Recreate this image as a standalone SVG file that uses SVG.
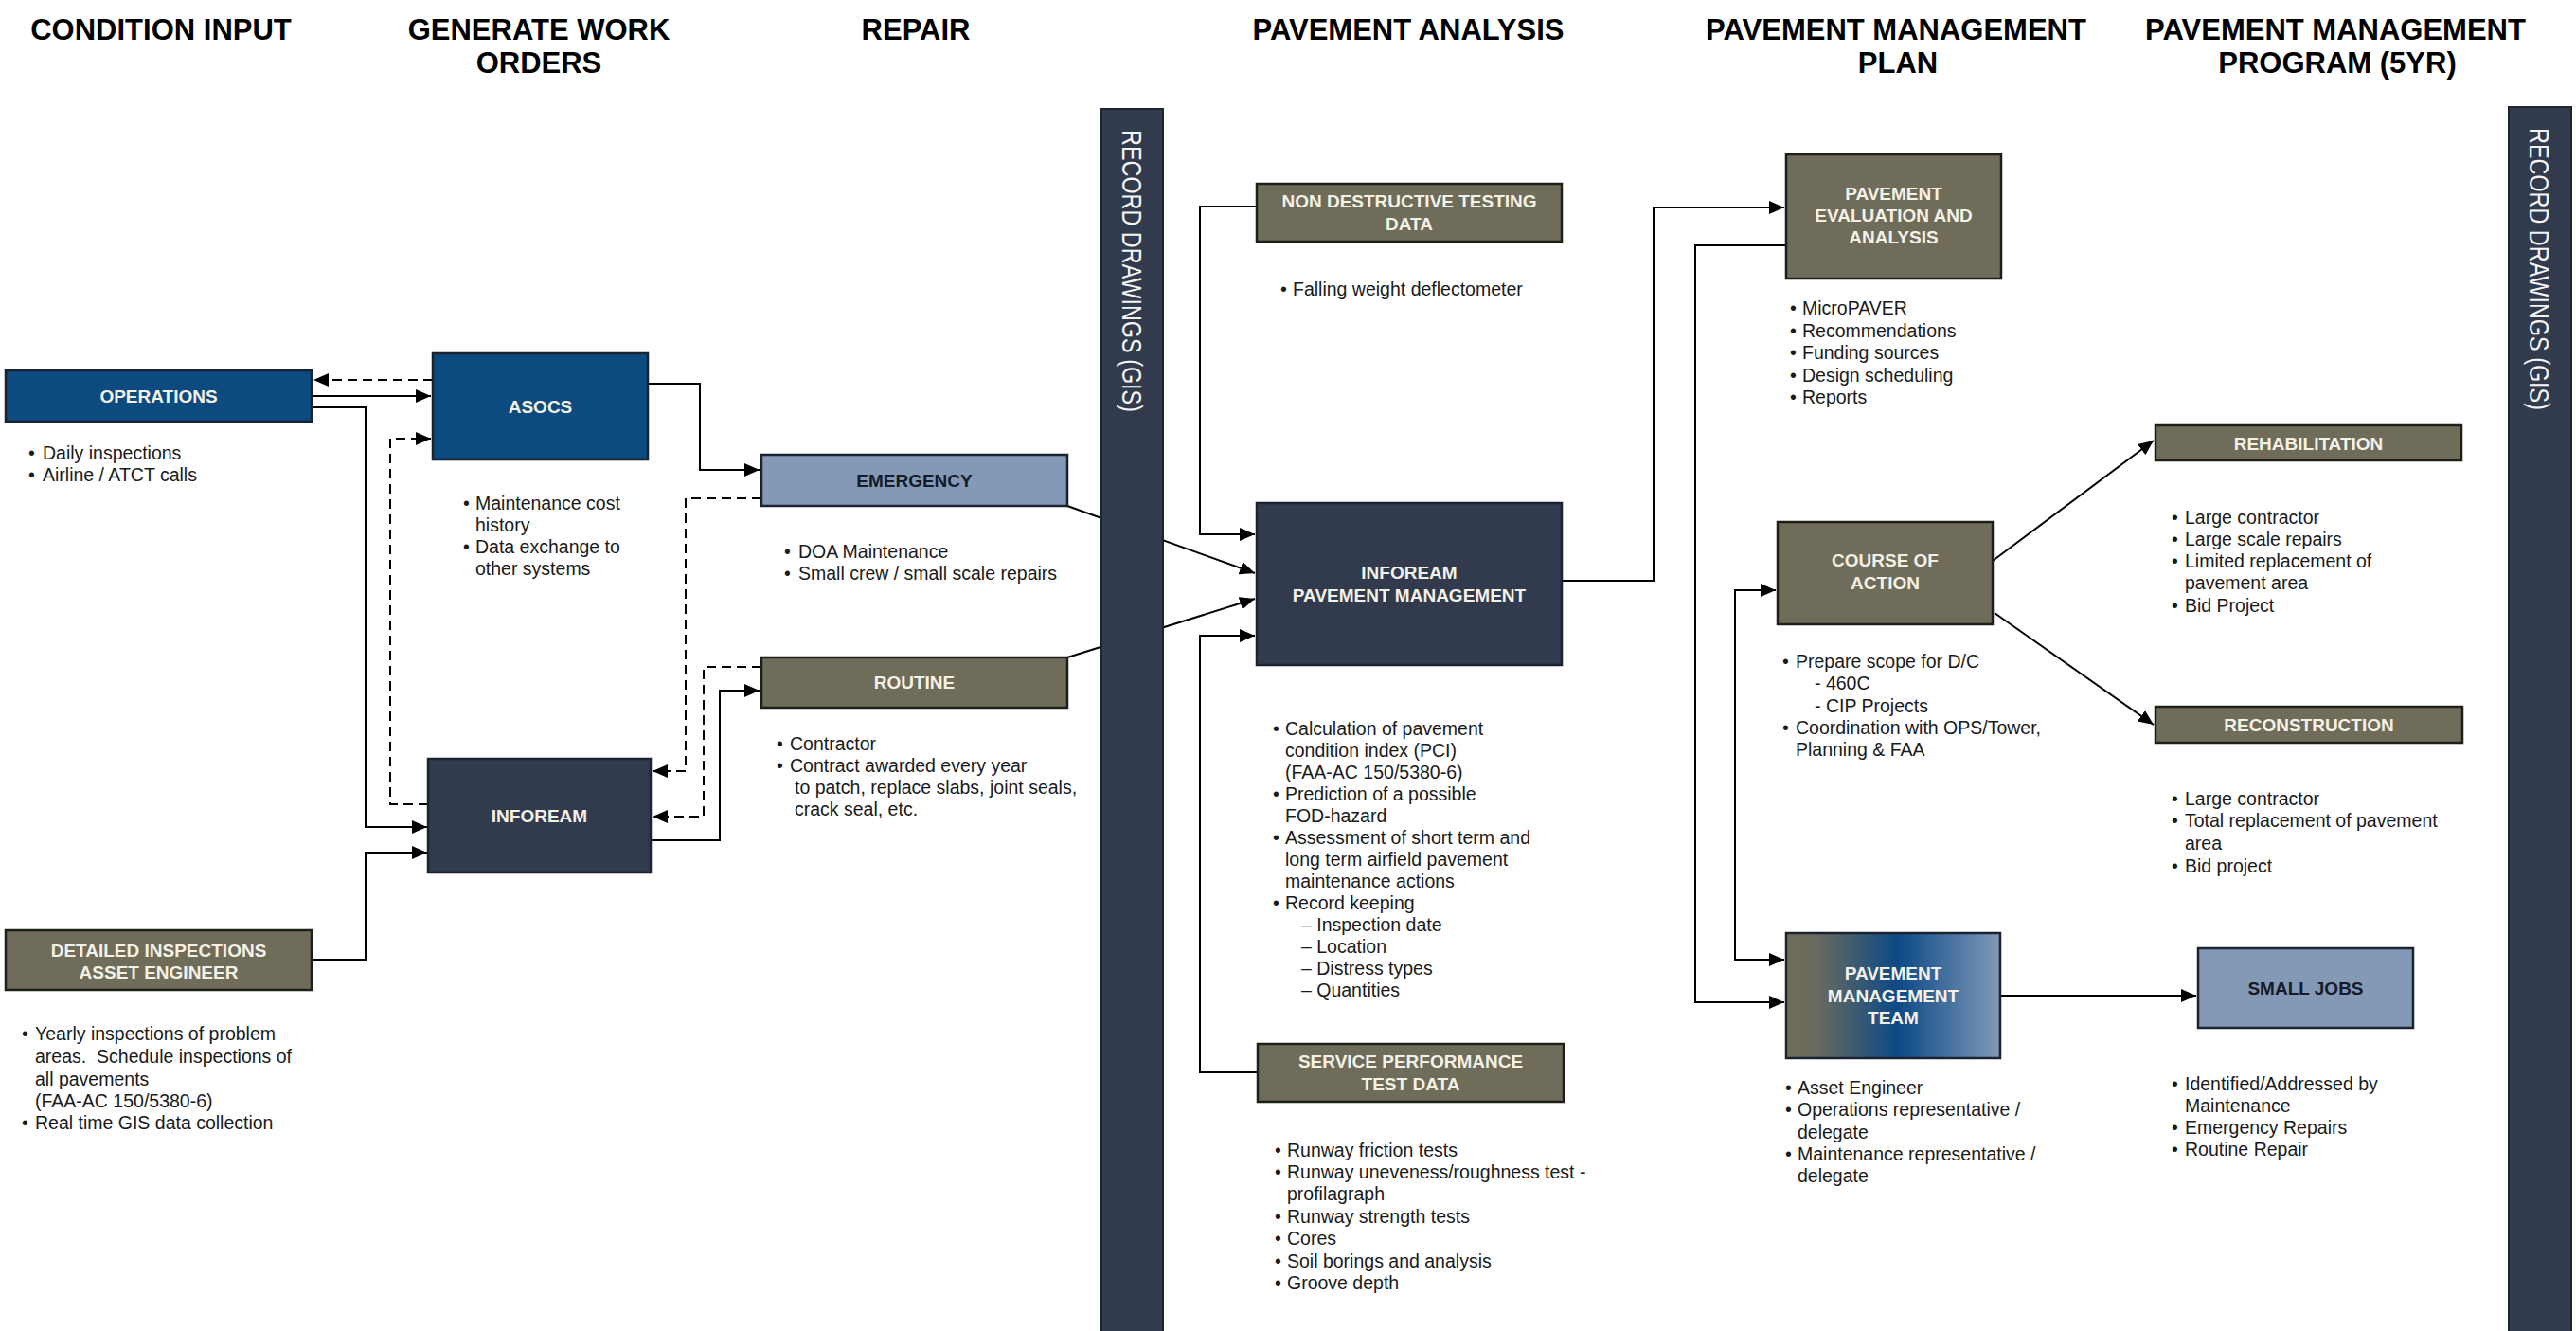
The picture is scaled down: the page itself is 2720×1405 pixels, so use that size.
<svg xmlns="http://www.w3.org/2000/svg" width="2720" height="1405" viewBox="0 0 2720 1405">
<defs>
<style>
text{font-family:"Liberation Sans",Arial,sans-serif}
.h{font-size:31px;font-weight:bold;fill:#000;text-anchor:middle}
.t{font-size:19px;font-weight:bold;fill:#f4f1e6;text-anchor:middle}
.td{font-size:19px;font-weight:bold;fill:#151b29;text-anchor:middle}
.b{font-size:19.5px;fill:#1a1a1a}
.bar{fill:#323b4e;stroke:#1e2430;stroke-width:2}
.bt{font-size:29px;fill:#f4f4f4}
.blue{fill:#0d4a7f;stroke:#1b2330;stroke-width:2.5}
.navy{fill:#323b4e;stroke:#1b2330;stroke-width:2.5}
.olive{fill:#6f6c5a;stroke:#1f1f1a;stroke-width:2.5}
.lb{fill:#8399b5;stroke:#1b2330;stroke-width:2.5}
.c{fill:none;stroke:#000;stroke-width:2}
.a{marker-end:url(#ah)}
.d{stroke-dasharray:10 6}
</style>
<marker id="ah" markerWidth="16" markerHeight="14" refX="16" refY="7" orient="auto-start-reverse" markerUnits="userSpaceOnUse"><path d="M0,0 L16,7 L0,14 z" fill="#000"/></marker>
<linearGradient id="pmtGrad" x1="0" y1="0" x2="1" y2="0">
<stop offset="0" stop-color="#6f6c58"/>
<stop offset="0.15" stop-color="#676a5f"/>
<stop offset="0.52" stop-color="#0c4a87"/>
<stop offset="1" stop-color="#8099b8"/>
</linearGradient>
</defs>
<rect width="2720" height="1405" fill="#fff"/>

<g id="headers">
<text class="h" x="170" y="42">CONDITION INPUT</text>
<text class="h" x="569" y="42">GENERATE WORK</text>
<text class="h" x="569" y="77">ORDERS</text>
<text class="h" x="967" y="42">REPAIR</text>
<text class="h" x="1487" y="42">PAVEMENT ANALYSIS</text>
<text class="h" x="2002" y="42">PAVEMENT MANAGEMENT</text>
<text class="h" x="2004" y="77">PLAN</text>
<text class="h" x="2466" y="42">PAVEMENT MANAGEMENT</text>
<text class="h" x="2468" y="77">PROGRAM (5YR)</text>
</g>

<g id="connectors">
<polyline class="c d a" points="457,401 331,401"/>
<polyline class="c a" points="329,418 455,418"/>
<polyline class="c a" points="329,430 386,430 386,873 451,873"/>
<polyline class="c d a" points="452,849 412,849 412,463 455,463"/>
<polyline class="c a" points="684,405 739,405 739,496 802,496"/>
<polyline class="c d a" points="804,526 724,526 724,814 689,814"/>
<polyline class="c d a" points="804,704 743,704 743,862 689,862"/>
<polyline class="c a" points="687,887 760,887 760,729 802,729"/>
<polyline class="c a" points="329,1013 386,1013 386,900 451,900"/>
<polyline class="c a" points="1127,534 1325,605"/>
<polyline class="c a" points="1127,694 1325,632"/>
<polyline class="c a" points="1327,218 1267,218 1267,564 1325,564"/>
<polyline class="c a" points="1328,1132 1267,1132 1267,671 1325,671"/>
<polyline class="c a" points="1649,613 1746,613 1746,219 1884,219"/>
<polyline class="c a" points="1886,259 1790,259 1790,1058 1884,1058"/>
<polyline class="c a" style="marker-start:url(#ah)" points="1875,623 1832,623 1832,1013 1884,1013"/>
<polyline class="c a" points="2104,592 2274,465"/>
<polyline class="c a" points="2106,647 2274,765"/>
<polyline class="c a" points="2112,1051 2319,1051"/>
</g>

<g id="bar-left">
<rect class="bar" x="1163" y="115" width="65" height="1295"/>
<text class="bt" transform="translate(1185,137) rotate(90)" textLength="298" lengthAdjust="spacingAndGlyphs">RECORD DRAWINGS (GIS)</text>
</g>
<g id="bar-right">
<rect class="bar" x="2649" y="113" width="66" height="1297"/>
<text class="bt" transform="translate(2671,135) rotate(90)" textLength="298" lengthAdjust="spacingAndGlyphs">RECORD DRAWINGS (GIS)</text>
</g>

<g id="operations">
<rect class="blue" x="6" y="391" width="323" height="54"/>
<text class="t" x="167.5" y="425">OPERATIONS</text>
<text class="b" x="30" y="485">•</text><text class="b" x="45" y="485">Daily inspections</text>
<text class="b" x="30" y="508">•</text><text class="b" x="45" y="508">Airline / ATCT calls</text>
</g>

<g id="detailed-inspections">
<rect class="olive" x="6" y="982" width="323" height="63"/>
<text class="t" x="167.5" y="1010">DETAILED INSPECTIONS</text>
<text class="t" x="167.5" y="1033">ASSET ENGINEER</text>
<text class="b" x="23" y="1098">•</text><text class="b" x="37" y="1098">Yearly inspections of problem</text>
<text class="b" x="37" y="1122" xml:space="preserve">areas.  Schedule inspections of</text>
<text class="b" x="37" y="1146">all pavements</text>
<text class="b" x="37" y="1169">(FAA-AC 150/5380-6)</text>
<text class="b" x="23" y="1192">•</text><text class="b" x="37" y="1192">Real time GIS data collection</text>
</g>

<g id="asocs">
<rect class="blue" x="457" y="373" width="227" height="112"/>
<text class="t" x="570.5" y="436">ASOCS</text>
<text class="b" x="489" y="538">•</text><text class="b" x="502" y="538">Maintenance cost</text>
<text class="b" x="502" y="561">history</text>
<text class="b" x="489" y="584">•</text><text class="b" x="502" y="584">Data exchange to</text>
<text class="b" x="502" y="607">other systems</text>
</g>

<g id="infoream">
<rect class="navy" x="452" y="801" width="235" height="120"/>
<text class="t" x="569.5" y="868">INFOREAM</text>
</g>

<g id="emergency">
<rect class="lb" x="804" y="480" width="323" height="54"/>
<text class="td" x="965.5" y="514">EMERGENCY</text>
<text class="b" x="828" y="589">•</text><text class="b" x="843" y="589">DOA Maintenance</text>
<text class="b" x="828" y="612">•</text><text class="b" x="843" y="612">Small crew / small scale repairs</text>
</g>

<g id="routine">
<rect class="olive" x="804" y="694" width="323" height="53"/>
<text class="t" x="965.5" y="727">ROUTINE</text>
<text class="b" x="820" y="792">•</text><text class="b" x="834" y="792">Contractor</text>
<text class="b" x="820" y="815">•</text><text class="b" x="834" y="815">Contract awarded every year</text>
<text class="b" x="839" y="838">to patch, replace slabs, joint seals,</text>
<text class="b" x="839" y="861">crack seal, etc.</text>
</g>

<g id="ndt">
<rect class="olive" x="1327" y="194" width="322" height="61"/>
<text class="t" x="1488" y="219">NON DESTRUCTIVE TESTING</text>
<text class="t" x="1488" y="243">DATA</text>
<text class="b" x="1352" y="312">•</text><text class="b" x="1365" y="312">Falling weight deflectometer</text>
</g>

<g id="infoream-pm">
<rect class="navy" x="1327" y="531" width="322" height="171"/>
<text class="t" x="1488" y="611">INFOREAM</text>
<text class="t" x="1488" y="635">PAVEMENT MANAGEMENT</text>
<text class="b" x="1344" y="776">•</text><text class="b" x="1357" y="776">Calculation of pavement</text>
<text class="b" x="1357" y="799">condition index (PCI)</text>
<text class="b" x="1357" y="822">(FAA-AC 150/5380-6)</text>
<text class="b" x="1344" y="845">•</text><text class="b" x="1357" y="845">Prediction of a possible</text>
<text class="b" x="1357" y="868">FOD-hazard</text>
<text class="b" x="1344" y="891">•</text><text class="b" x="1357" y="891">Assessment of short term and</text>
<text class="b" x="1357" y="914">long term airfield pavement</text>
<text class="b" x="1357" y="937">maintenance actions</text>
<text class="b" x="1344" y="960">•</text><text class="b" x="1357" y="960">Record keeping</text>
<text class="b" x="1374" y="983">– Inspection date</text>
<text class="b" x="1374" y="1006">– Location</text>
<text class="b" x="1374" y="1029">– Distress types</text>
<text class="b" x="1374" y="1052">– Quantities</text>
</g>

<g id="service-performance">
<rect class="olive" x="1328" y="1102" width="323" height="61"/>
<text class="t" x="1489.5" y="1127">SERVICE PERFORMANCE</text>
<text class="t" x="1489.5" y="1151">TEST DATA</text>
<text class="b" x="1346" y="1221">•</text><text class="b" x="1359" y="1221">Runway friction tests</text>
<text class="b" x="1346" y="1244">•</text><text class="b" x="1359" y="1244">Runway uneveness/roughness test -</text>
<text class="b" x="1359" y="1267">profilagraph</text>
<text class="b" x="1346" y="1291">•</text><text class="b" x="1359" y="1291">Runway strength tests</text>
<text class="b" x="1346" y="1314">•</text><text class="b" x="1359" y="1314">Cores</text>
<text class="b" x="1346" y="1338">•</text><text class="b" x="1359" y="1338">Soil borings and analysis</text>
<text class="b" x="1346" y="1361">•</text><text class="b" x="1359" y="1361">Groove depth</text>
</g>

<g id="pavement-evaluation">
<rect class="olive" x="1886" y="163" width="227" height="131"/>
<text class="t" x="1999.5" y="211">PAVEMENT</text>
<text class="t" x="1999.5" y="234">EVALUATION AND</text>
<text class="t" x="1999.5" y="257">ANALYSIS</text>
<text class="b" x="1890" y="332">•</text><text class="b" x="1903" y="332">MicroPAVER</text>
<text class="b" x="1890" y="356">•</text><text class="b" x="1903" y="356">Recommendations</text>
<text class="b" x="1890" y="379">•</text><text class="b" x="1903" y="379">Funding sources</text>
<text class="b" x="1890" y="403">•</text><text class="b" x="1903" y="403">Design scheduling</text>
<text class="b" x="1890" y="426">•</text><text class="b" x="1903" y="426">Reports</text>
</g>

<g id="course-of-action">
<rect class="olive" x="1877" y="551" width="227" height="108"/>
<text class="t" x="1990.5" y="598">COURSE OF</text>
<text class="t" x="1990.5" y="622">ACTION</text>
<text class="b" x="1882" y="705">•</text><text class="b" x="1896" y="705">Prepare scope for D/C</text>
<text class="b" x="1916" y="728">- 460C</text>
<text class="b" x="1916" y="752">- CIP Projects</text>
<text class="b" x="1882" y="775">•</text><text class="b" x="1896" y="775">Coordination with OPS/Tower,</text>
<text class="b" x="1896" y="798">Planning &amp; FAA</text>
</g>

<g id="pm-team">
<rect x="1886" y="985" width="226" height="132" fill="url(#pmtGrad)" stroke="#1b2330" stroke-width="2.5"/>
<text class="t" x="1999" y="1034">PAVEMENT</text>
<text class="t" x="1999" y="1058">MANAGEMENT</text>
<text class="t" x="1999" y="1081">TEAM</text>
<text class="b" x="1885" y="1155">•</text><text class="b" x="1898" y="1155">Asset Engineer</text>
<text class="b" x="1885" y="1178">•</text><text class="b" x="1898" y="1178">Operations representative /</text>
<text class="b" x="1898" y="1202">delegate</text>
<text class="b" x="1885" y="1225">•</text><text class="b" x="1898" y="1225">Maintenance representative /</text>
<text class="b" x="1898" y="1248">delegate</text>
</g>

<g id="rehabilitation">
<rect class="olive" x="2276" y="449" width="323" height="37"/>
<text class="t" x="2437.5" y="475">REHABILITATION</text>
<text class="b" x="2293" y="553">•</text><text class="b" x="2307" y="553">Large contractor</text>
<text class="b" x="2293" y="576">•</text><text class="b" x="2307" y="576">Large scale repairs</text>
<text class="b" x="2293" y="599">•</text><text class="b" x="2307" y="599">Limited replacement of</text>
<text class="b" x="2307" y="622">pavement area</text>
<text class="b" x="2293" y="646">•</text><text class="b" x="2307" y="646">Bid Project</text>
</g>

<g id="reconstruction">
<rect class="olive" x="2276" y="746" width="324" height="38"/>
<text class="t" x="2438" y="772">RECONSTRUCTION</text>
<text class="b" x="2293" y="850">•</text><text class="b" x="2307" y="850">Large contractor</text>
<text class="b" x="2293" y="873">•</text><text class="b" x="2307" y="873">Total replacement of pavement</text>
<text class="b" x="2307" y="897">area</text>
<text class="b" x="2293" y="921">•</text><text class="b" x="2307" y="921">Bid project</text>
</g>

<g id="small-jobs">
<rect class="lb" x="2321" y="1001" width="227" height="84"/>
<text class="td" x="2434.5" y="1050">SMALL JOBS</text>
<text class="b" x="2293" y="1151">•</text><text class="b" x="2307" y="1151">Identified/Addressed by</text>
<text class="b" x="2307" y="1174">Maintenance</text>
<text class="b" x="2293" y="1197">•</text><text class="b" x="2307" y="1197">Emergency Repairs</text>
<text class="b" x="2293" y="1220">•</text><text class="b" x="2307" y="1220">Routine Repair</text>
</g>
</svg>
